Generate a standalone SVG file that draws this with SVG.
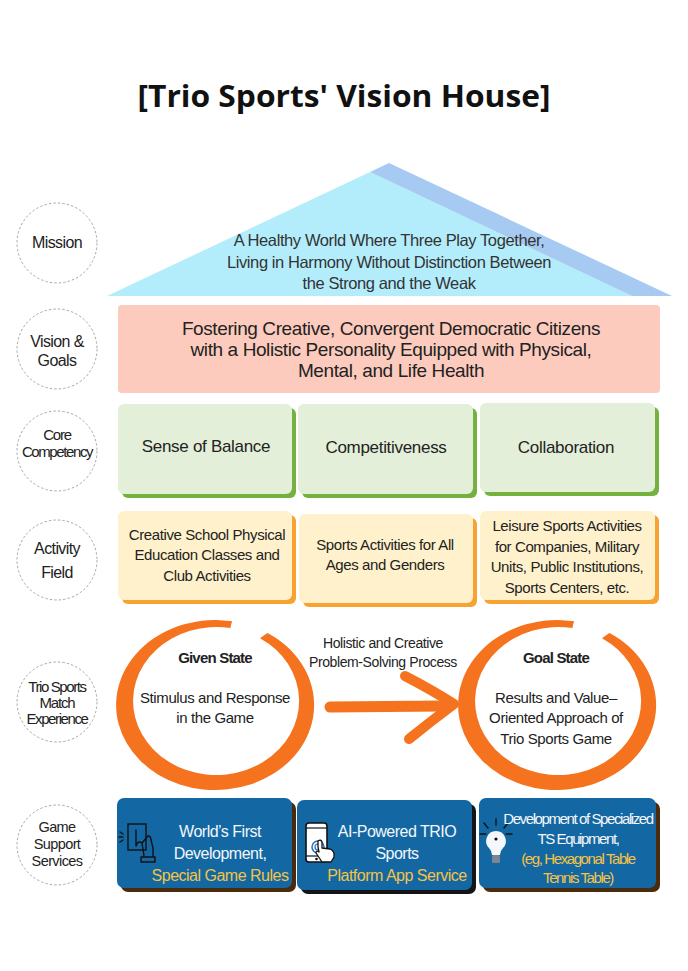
<svg xmlns="http://www.w3.org/2000/svg" width="688" height="971" viewBox="0 0 688 971">
<defs>
<style>
text{font-family:"Liberation Sans",Arial,sans-serif;fill:#222;text-anchor:middle}
.lbl{font-size:15px;letter-spacing:-0.6px}
.side{fill:none;stroke:#a8a8a8;stroke-width:1;stroke-dasharray:2.5 2}
.comp{font-size:17px;letter-spacing:-0.3px}
.act{font-size:15px;letter-spacing:-0.4px}
.g{fill:#e3efd9}.gs{fill:#74b13e}
.y{fill:#fff1cb}.ys{fill:#f8a232}
.b{fill:#1368a3}
.wt{fill:#f4f6fb;font-size:16px;letter-spacing:-0.5px}
.yt{fill:#f5c344;font-size:16px;letter-spacing:-0.5px}
.ring{fill:#f5731f}
.brush{fill:none;stroke:#f5731f;stroke-linecap:round;stroke-linejoin:round}
.ico{fill:none;stroke:#111;stroke-width:1.4;stroke-linecap:round;stroke-linejoin:round}
.mis{font-size:16.5px;fill:#333;letter-spacing:-0.4px}
.vis{font-size:19px;letter-spacing:-0.4px}
</style>
<path id="ringShape" d="M232.2,621.3 A99,85 0 1 0 267.5,632.9 Q264,635 260.0,638.2 A83,74 0 1 1 230.4,628.1 Q231,624 232.2,621.3 Z"/>
</defs>
<rect width="688" height="971" fill="#ffffff"/>

<g id="title">
<text x="344" y="107" style="font-family:'Open Sans','Noto Sans',sans-serif;font-weight:bold;font-size:31px;fill:#111" textLength="413" lengthAdjust="spacingAndGlyphs">[Trio Sports' Vision House]</text>
</g>

<g id="side-labels">
<g id="lbl-mission"><ellipse class="side" cx="57" cy="243" rx="40" ry="40"/><text class="lbl" x="57" y="248" style="font-size:16px">Mission</text></g>
<g id="lbl-vision"><ellipse class="side" cx="57" cy="349" rx="40" ry="40"/><text class="lbl" x="57" y="347" style="font-size:16px">Vision &amp;</text><text class="lbl" x="57" y="366" style="font-size:16px">Goals</text></g>
<g id="lbl-core"><ellipse class="side" cx="57" cy="451" rx="40" ry="40"/><text class="lbl" x="57" y="440" style="letter-spacing:-1.2px">Core</text><text class="lbl" x="57" y="457" style="letter-spacing:-1.4px">Competency</text></g>
<g id="lbl-activity"><ellipse class="side" cx="57" cy="560" rx="40" ry="40"/><text class="lbl" x="57" y="554" style="font-size:16px">Activity</text><text class="lbl" x="57" y="578" style="font-size:16px">Field</text></g>
<g id="lbl-match"><ellipse class="side" cx="57" cy="702" rx="40" ry="40"/><text class="lbl" x="57" y="692" style="letter-spacing:-1.4px">Trio Sports</text><text class="lbl" x="57" y="708" style="letter-spacing:-1.2px">Match</text><text class="lbl" x="57" y="724" style="letter-spacing:-1.4px">Experience</text></g>
<g id="lbl-game"><ellipse class="side" cx="57" cy="845" rx="40" ry="40"/><text class="lbl" x="57" y="832" style="font-size:14.5px">Game</text><text class="lbl" x="57" y="849" style="font-size:14.5px">Support</text><text class="lbl" x="57" y="866" style="font-size:14.5px">Services</text></g>
</g>

<g id="mission">
<polygon points="107,296 370,172 632,296" fill="#b3edfc"/>
<polygon points="370,172 389,163 672,296 632,296" fill="#a6caf2"/>
<text class="mis" x="389" y="246">A Healthy World Where Three Play Together,</text>
<text class="mis" x="389" y="268">Living in Harmony Without Distinction Between</text>
<text class="mis" x="389" y="289">the Strong and the Weak</text>
</g>

<g id="vision">
<rect x="118" y="305" width="542" height="88" rx="4" fill="#fdcbbd"/>
<text class="vis" x="391" y="335">Fostering Creative, Convergent Democratic Citizens</text>
<text class="vis" x="391" y="356">with a Holistic Personality Equipped with Physical,</text>
<text class="vis" x="391" y="377">Mental, and Life Health</text>
</g>

<g id="comp-balance">
<rect class="gs" x="122" y="408" width="174" height="90" rx="6"/>
<rect class="g" x="118" y="404" width="174" height="90" rx="6"/>
<text class="comp" x="206" y="452">Sense of Balance</text>
</g>
<g id="comp-competitiveness">
<rect class="gs" x="302" y="408" width="175" height="90" rx="6"/>
<rect class="g" x="298" y="404" width="175" height="90" rx="6"/>
<text class="comp" x="386" y="453">Competitiveness</text>
</g>
<g id="comp-collaboration">
<rect class="gs" x="484" y="407" width="175" height="89" rx="6"/>
<rect class="g" x="480" y="403" width="175" height="89" rx="6"/>
<text class="comp" x="566" y="453">Collaboration</text>
</g>

<g id="act-school">
<rect class="ys" x="122" y="515" width="174" height="89" rx="6"/>
<rect class="y" x="118" y="511" width="174" height="89" rx="6"/>
<text class="act" x="207" y="540">Creative School Physical</text>
<text class="act" x="207" y="560">Education Classes and</text>
<text class="act" x="207" y="581">Club Activities</text>
</g>
<g id="act-all">
<rect class="ys" x="303" y="518" width="174" height="89" rx="6"/>
<rect class="y" x="299" y="514" width="174" height="89" rx="6"/>
<text class="act" x="385" y="550">Sports Activities for All</text>
<text class="act" x="385" y="570">Ages and Genders</text>
</g>
<g id="act-leisure">
<rect class="ys" x="484" y="515" width="175" height="89" rx="6"/>
<rect class="y" x="480" y="511" width="175" height="89" rx="6"/>
<text class="act" x="567" y="531">Leisure Sports Activities</text>
<text class="act" x="567" y="552">for Companies, Military</text>
<text class="act" x="567" y="572">Units, Public Institutions,</text>
<text class="act" x="567" y="593">Sports Centers, etc.</text>
</g>

<g id="given-state">
<use href="#ringShape" class="ring"/>
<text x="215" y="663" style="font-size:15px;font-weight:bold;letter-spacing:-0.8px">Given State</text>
<text x="215" y="703" style="font-size:15px;letter-spacing:-0.4px">Stimulus and Response</text>
<text x="215" y="723" style="font-size:15px;letter-spacing:-0.4px">in the Game</text>
</g>

<g id="goal-state">
<use href="#ringShape" class="ring" transform="translate(342,0)"/>
<text x="556" y="663" style="font-size:15px;font-weight:bold;letter-spacing:-0.8px">Goal State</text>
<text x="556" y="703" style="font-size:15px;letter-spacing:-0.4px">Results and Value–</text>
<text x="556" y="723" style="font-size:15px;letter-spacing:-0.4px">Oriented Approach of</text>
<text x="556" y="744" style="font-size:15px;letter-spacing:-0.4px">Trio Sports Game</text>
</g>

<g id="connectors">
<path class="brush" d="M330,707 L444,706" stroke-width="11"/>
<path class="brush" d="M405,676 Q432,690 454,704 Q430,722 409,739" stroke-width="10"/>
<text x="383" y="648" style="font-size:14px;letter-spacing:-0.4px">Holistic and Creative</text>
<text x="383" y="667" style="font-size:14px;letter-spacing:-0.4px">Problem-Solving Process</text>
</g>

<g id="svc-rules">
<rect x="121" y="802" width="175" height="90" rx="7" fill="#4a2b0c"/>
<rect class="b" x="117" y="798" width="175" height="90" rx="7"/>
<rect x="128" y="824" width="18" height="26" fill="none" stroke="#111" stroke-width="1.4"/>
<path class="ico" d="M136,830 L136,846 M136,846 Q138,840 142,843 L148,836 Q151,836 151,840 L153,848 L153,857 M142,843 L144,856 M141,857 H155 V862 H141 Z M120,832 L123,834 M119,837 L123,837 M120,842 L123,840"/>
<text class="wt" x="220" y="837">World’s First</text>
<text class="wt" x="220" y="859">Development,</text>
<text class="yt" x="220" y="881">Special Game Rules</text>
</g>

<g id="svc-app">
<rect x="301" y="804" width="175" height="90" rx="7" fill="#151515"/>
<rect class="b" x="297" y="800" width="175" height="90" rx="7"/>
<rect x="306" y="823" width="21" height="39" rx="3" fill="#fff" stroke="#111" stroke-width="1.6"/>
<line x1="306" y1="828" x2="327" y2="828" stroke="#111" stroke-width="1.2"/>
<line x1="306" y1="856" x2="327" y2="856" stroke="#111" stroke-width="1.2"/>
<circle cx="316.5" cy="859" r="1.3" fill="#111"/>
<circle cx="318" cy="847" r="6" fill="none" stroke="#2a6fc0" stroke-width="1.5"/>
<circle cx="318" cy="847" r="3" fill="none" stroke="#2a6fc0" stroke-width="1.2"/>
<path d="M318,847 L318,841 Q321,839 322,842 L322,848 L330,849 Q335,851 334,857 L331,862 L322,862 L316,853 Q316,850 319,852 Z" fill="#fff" stroke="#111" stroke-width="1.3" stroke-linejoin="round"/>
<text class="wt" x="397" y="837">AI-Powered TRIO</text>
<text class="wt" x="397" y="859">Sports</text>
<text class="yt" x="397" y="881">Platform App Service</text>
</g>

<g id="svc-equipment">
<rect x="483" y="802" width="177" height="90" rx="7" fill="#4a2b0c"/>
<rect class="b" x="479" y="798" width="177" height="90" rx="7"/>
<path d="M496,831 a10,10 0 0 1 7,17 q-3,3 -3,7 h-8 q0,-4 -3,-7 a10,10 0 0 1 7,-17 Z" fill="#f4f7fb"/>
<rect x="492" y="855" width="8" height="8" rx="1.5" fill="#7d8590"/>
<circle cx="496" cy="839" r="1.6" fill="#111"/>
<path class="ico" d="M496,819 V825 M484,823 L488,828 M508,823 L504,828 M480,834 L486,834 M506,834 L512,834"/>
<text x="578" y="824" style="fill:#f4f6fb;font-size:15px;letter-spacing:-1.4px">Development of Specialized</text>
<text x="578" y="844" style="fill:#f4f6fb;font-size:15px;letter-spacing:-1.4px">TS Equipment,</text>
<text x="578" y="864" style="fill:#f5c344;font-size:15px;letter-spacing:-1.4px">(eg, Hexagonal Table</text>
<text x="578" y="883" style="fill:#f5c344;font-size:15px;letter-spacing:-1.4px">Tennis Table)</text>
</g>
</svg>
